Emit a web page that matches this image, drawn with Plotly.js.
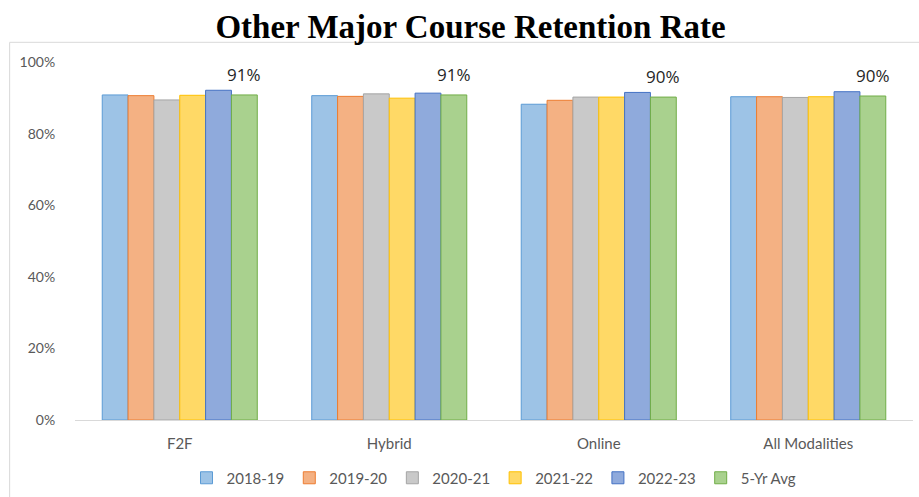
<!DOCTYPE html>
<html><head><meta charset="utf-8">
<script src="https://cdn.plot.ly/plotly-3.0.1.min.js"></script>
<style>html,body{margin:0;padding:0;background:#fff}#chart{width:919px;height:497px}</style>
</head><body><div id="chart"></div>
<script>
const categories = ["F2F", "Hybrid", "Online", "All Modalities"];
const seriesNames = ["2018-19", "2019-20", "2020-21", "2021-22", "2022-23", "5-Yr Avg"];
const v2018 = [0.908, 0.906, 0.882, 0.903];
const v2019 = [0.906, 0.904, 0.893, 0.903];
const v2020 = [0.894, 0.911, 0.902, 0.901];
const v2021 = [0.907, 0.899, 0.902, 0.903];
const v2022 = [0.921, 0.913, 0.915, 0.917];
const vAvg  = [0.908, 0.908, 0.902, 0.905];
const avgLabels = ["91%", "91%", "90%", "90%"];

const fills = ["#9DC3E6", "#F4B183", "#C9C9C9", "#FFD966", "#8FAADC", "#A9D18E"];
const lines = ["#5B9BD5", "#ED7D31", "#A5A5A5", "#FFC000", "#4472C4", "#70AD47"];
const allVals = [v2018, v2019, v2020, v2021, v2022, vAvg];
const BARGAP = 0.26;
const nSeries = allVals.length;

const traces = allVals.map((vals, i) => ({
  type: "bar", name: seriesNames[i], x: categories, y: vals,
  marker: {color: fills[i], line: {color: lines[i], width: 1}},
  hoverinfo: "none"
}));

// data labels for the 5-Yr Avg series, placed over its bar in each group
const avgOffset = (1 - BARGAP) * ((nSeries - 1 + 0.5) / nSeries - 0.5);
const annotations = vAvg.map((v, i) => ({
  x: i + avgOffset, y: v, xref: "x", yref: "y",
  text: avgLabels[i], showarrow: false, xanchor: "center", yanchor: "bottom", yshift: 7,
  font: {family: "Open Sans, sans-serif", size: 17, color: "#262626"}
}));

const layout = {
  width: 919, height: 497,
  margin: {l: 75, r: 6, t: 62, b: 77, autoexpand: false},
  paper_bgcolor: "#fff", plot_bgcolor: "#fff",
  title: {text: "Other Major Course Retention Rate", x: 0.512, xanchor: "center", y: 0.946, yanchor: "middle",
          font: {family: "Liberation Serif, serif", size: 33, color: "#000", weight: "bold"}},
  barmode: "group", bargap: BARGAP, bargroupgap: 0,
  xaxis: {showgrid: false, showline: true, linecolor: "#D9D9D9", linewidth: 1,
          ticks: "outside", ticklen: 10, tickcolor: "rgba(0,0,0,0)",
          tickfont: {family: "Lato, sans-serif", size: 15, color: "#595959"}},
  yaxis: {range: [0, 1.0], dtick: 0.2, tickformat: ".0%", showgrid: false, zeroline: false,
          showline: false, ticks: "outside", ticklen: 16, tickcolor: "rgba(0,0,0,0)",
          tickfont: {family: "Lato, sans-serif", size: 14, color: "#595959"}},
  legend: {orientation: "h", x: 0.5, xanchor: "center", y: -0.116, yanchor: "top",
           font: {family: "Lato, sans-serif", size: 15, color: "#595959"},
           itemwidth: 30, tracegroupgap: 0},
  annotations: annotations,
  shapes: [{type: "rect", xref: "paper", yref: "paper", x0: -0.078, x1: 1.01, y0: -0.4, y1: 1.055,
            line: {color: "#D9D9D9", width: 1}}],
  showlegend: true
};
Plotly.newPlot("chart", traces, layout, {staticPlot: true});
</script></body></html>
